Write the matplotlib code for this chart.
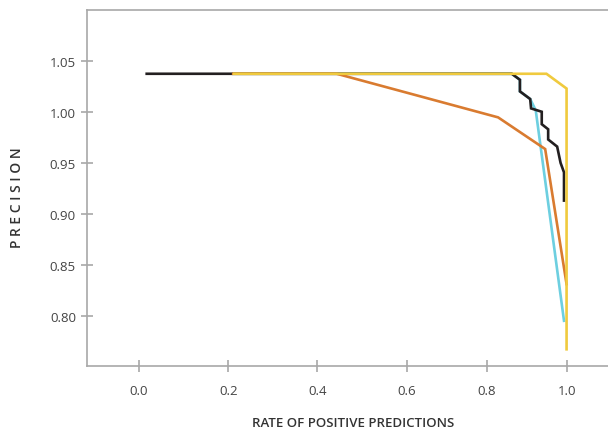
import matplotlib
matplotlib.use("Agg")
import matplotlib.pyplot as plt

plt.rcParams['font.family'] = ['Open Sans', 'DejaVu Sans']

# tick positions as drawn in the original (spacing is not quite even)
x_tick_pos = [0.0, 0.2087, 0.4166, 0.626, 0.812, 1.0]
x_tick_labels = ['0.0', '0.2', '0.4', '0.6', '0.8', '1.0']
y_ticks = [0.80, 0.85, 0.90, 0.95, 1.00, 1.05]

# curves (drawn bottom to top: cyan, black, orange, yellow)
cyan_x = [0.22, 0.871, 0.890, 0.890, 0.914, 0.927, 0.993]
cyan_y = [1.0375, 1.0375, 1.0316, 1.0202, 1.0127, 1.0015, 0.795]

black_x = [0.018, 0.871, 0.890, 0.890, 0.914, 0.916, 0.941, 0.941, 0.956, 0.956,
           0.977, 0.985, 0.993, 0.993]
black_y = [1.0375, 1.0375, 1.0316, 1.0202, 1.0127, 1.0035, 1.0002, 0.988, 0.983, 0.973,
           0.966, 0.950, 0.9407, 0.913]

orange_x = [0.22, 0.462, 0.839, 0.949, 0.999]
orange_y = [1.0375, 1.0375, 0.9947, 0.9636, 0.831]

yellow_x = [0.222, 0.952, 0.999, 0.999]
yellow_y = [1.0375, 1.0375, 1.023, 0.767]

fig = plt.figure(figsize=(6.08, 4.35), dpi=100)
ax = fig.add_axes([87 / 608, 68 / 435, 1 - 87 / 608, 356.3 / 435])

lw = 1.9
ax.plot(cyan_x, cyan_y, color='#6dcfe0', lw=lw, solid_joinstyle='miter')
ax.plot(black_x, black_y, color='#231f20', lw=lw, solid_joinstyle='miter')
ax.plot(orange_x, orange_y, color='#d97b30', lw=lw, solid_joinstyle='miter')
ax.plot(yellow_x, yellow_y, color='#f0ca3e', lw=lw, solid_joinstyle='miter')

ax.set_xlim(-0.1215, 1.0958)
ax.set_ylim(0.7506, 1.1004)

ax.set_xticks(x_tick_pos)
ax.set_xticklabels(x_tick_labels)
ax.set_yticks(y_ticks)
ax.set_yticklabels(['%.2f' % v for v in y_ticks])

grey = '#a8a8a8'
for side in ['left', 'top', 'bottom']:
    ax.spines[side].set_color(grey)
    ax.spines[side].set_linewidth(1.2)
ax.spines['right'].set_visible(False)

ax.tick_params(axis='both', direction='inout', length=8, width=1.2, color=grey,
               labelsize=9.5, labelcolor='#444444')
ax.tick_params(axis='x', pad=9)
ax.tick_params(axis='y', pad=4)

ax.set_xlabel('RATE OF POSITIVE PREDICTIONS', fontsize=9.5, fontweight='semibold',
              color='#333333')
ax.xaxis.set_label_coords(0.51, -0.141)
ax.set_ylabel('P R E C I S I O N', fontsize=10, fontweight='semibold',
              color='#333333')
ax.yaxis.set_label_coords(-0.12, 0.475)

fig.savefig('out.png', dpi=100)
